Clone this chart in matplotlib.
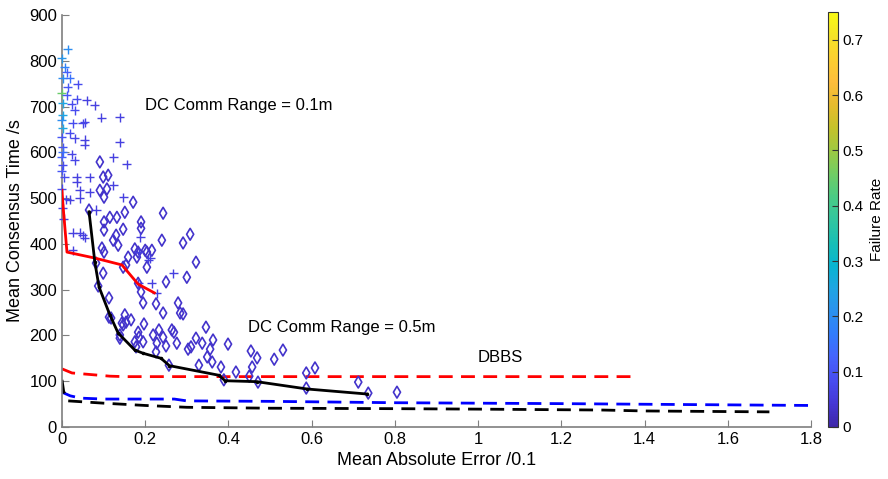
import matplotlib
matplotlib.use("Agg")
import matplotlib.pyplot as plt
import numpy as np
from matplotlib.colors import LinearSegmentedColormap, Normalize
from matplotlib.cm import ScalarMappable
from matplotlib.ticker import FuncFormatter

plt.rcParams['font.family'] = ['Liberation Sans', 'DejaVu Sans']

# MATLAB parula, sampled
parula_pts = [
    (0.2422, 0.1504, 0.6603), (0.2706, 0.2147, 0.8364), (0.2813, 0.3006, 0.9414),
    (0.2699, 0.3892, 0.9906), (0.1963, 0.4847, 0.9892), (0.1687, 0.5703, 0.9359),
    (0.1248, 0.6459, 0.8883), (0.0297, 0.7082, 0.8163), (0.0964, 0.7500, 0.7120),
    (0.1938, 0.7758, 0.6251), (0.2906, 0.7973, 0.5188), (0.4456, 0.8024, 0.3909),
    (0.6174, 0.7876, 0.2612), (0.7738, 0.7598, 0.1646), (0.9035, 0.7330, 0.1774),
    (0.9956, 0.7434, 0.2371), (0.9892, 0.8136, 0.1885), (0.9610, 0.8890, 0.1537),
    (0.9769, 0.9839, 0.0805),
]
parula = LinearSegmentedColormap.from_list('parula', parula_pts)

# DC comm range = 0.1m (plus markers): error, time, failure rate
plus_err = [0.014, 0.000, 0.007, 0.012, 0.002, 0.019, 0.038, 0.014, 0.000, 0.012,
            0.036, 0.060, 0.079, 0.024, 0.002, 0.031, 0.094, 0.139, 0.002, 0.000,
            0.026, 0.050, 0.055, 0.002, 0.019, 0.055, 0.055, 0.031, 0.139, 0.000,
            0.002, 0.002, 0.024, 0.031, 0.123, 0.156, 0.002, 0.005, 0.036, 0.036,
            0.067, 0.123, 0.043, 0.043, 0.147, 0.010, 0.019, 0.002, 0.082, 0.026,
            0.043, 0.050, 0.055, 0.188, 0.067, 0.026, 0.185, 0.216, 0.267, 0.212,
            0.228, 0.183, 0.207, 0.000, 0.000, 0.000, 0.004]
plus_time = [825, 805, 786, 775, 762, 762, 749, 742, 729, 725,
             716, 714, 703, 705, 707, 692, 675, 677, 681, 670,
             664, 664, 666, 653, 642, 627, 616, 631, 622, 633,
             611, 600, 596, 583, 589, 574, 572, 546, 546, 535,
             546, 528, 517, 500, 502, 498, 496, 478, 474, 424,
             424, 419, 413, 415, 513, 386, 382, 314, 336, 369,
             292, 314, 365, 590, 560, 520, 455]
plus_rate = [0.20, 0.22, 0.18, 0.12, 0.20, 0.15, 0.08, 0.10, 0.45, 0.10,
             0.08, 0.06, 0.06, 0.08, 0.25, 0.08, 0.06, 0.06, 0.25, 0.20,
             0.08, 0.07, 0.07, 0.25, 0.08, 0.06, 0.06, 0.07, 0.06, 0.10,
             0.10, 0.15, 0.07, 0.07, 0.06, 0.06, 0.08, 0.08, 0.06, 0.06,
             0.06, 0.06, 0.06, 0.06, 0.06, 0.07, 0.06, 0.07, 0.06, 0.06,
             0.06, 0.06, 0.06, 0.06, 0.06, 0.06, 0.06, 0.06, 0.06, 0.06,
             0.06, 0.06, 0.06, 0.12, 0.10, 0.08, 0.07]

# DC comm range = 0.5m (diamond markers)
dia_err = [0.091, 0.099, 0.111, 0.091, 0.108, 0.101, 0.171, 0.065, 0.151, 0.115,
           0.132, 0.101, 0.190, 0.101, 0.147, 0.130, 0.190, 0.123, 0.135, 0.096,
           0.200, 0.175, 0.216, 0.159, 0.243, 0.308, 0.240, 0.291, 0.322, 0.300,
           0.250, 0.099, 0.113, 0.113, 0.151, 0.154, 0.144, 0.139, 0.139, 0.190,
           0.195, 0.204, 0.204, 0.226, 0.243, 0.279, 0.284, 0.291, 0.197, 0.183,
           0.185, 0.175, 0.178, 0.195, 0.219, 0.233, 0.228, 0.243, 0.226, 0.250,
           0.269, 0.276, 0.257, 0.303, 0.310, 0.322, 0.346, 0.329, 0.349, 0.356,
           0.363, 0.361, 0.399, 0.382, 0.389, 0.418, 0.454, 0.469, 0.457, 0.450,
           0.471, 0.510, 0.531, 0.337, 0.587, 0.608, 0.587, 0.712, 0.736, 0.805,
           0.147, 0.180, 0.264, 0.082, 0.087, 0.118, 0.166, 0.147, 0.183, 0.154,
           0.101, 0.183]
dia_time = [579, 546, 550, 517, 520, 502, 491, 474, 469, 458,
            458, 448, 448, 430, 432, 419, 434, 408, 397, 391,
            386, 389, 386, 371, 467, 421, 408, 402, 360, 327,
            317, 336, 282, 240, 245, 229, 227, 201, 194, 295,
            271, 382, 349, 269, 249, 271, 249, 247, 225, 207,
            196, 186, 175, 186, 201, 212, 183, 196, 164, 177,
            207, 183, 135, 170, 175, 194, 218, 135, 153, 170,
            190, 142, 181, 131, 103, 120, 166, 151, 131, 111,
            98, 148, 168, 183, 118, 129, 85, 98, 74, 76,
            349, 371, 212, 358, 308, 238, 234, 223, 314, 354,
            382, 382]
dia_rate = 0.035

# Pareto fronts (solid) and DBBS (dashed)
front01_err = [0.000, 0.003, 0.012, 0.079, 0.144, 0.183, 0.222]
front01_time = [517, 478, 382, 369, 354, 312, 293]
front05_err = [0.065, 0.079, 0.089, 0.115, 0.135, 0.175, 0.195, 0.238, 0.258,
               0.377, 0.392, 0.468, 0.589, 0.733]
front05_time = [470, 360, 306, 245, 205, 168, 161, 150, 134, 113, 101, 99, 83, 72]

dbbs_red_err = [0.000, 0.024, 0.115, 0.150, 1.370]
dbbs_red_time = [127, 118, 111, 110, 110]
dbbs_blue_err = [0.000, 0.020, 0.045, 0.100, 0.270, 0.300, 0.500, 0.800, 1.200, 1.500, 1.800]
dbbs_blue_time = [76, 68, 63, 61, 61, 57, 56, 53, 51, 49, 47]
dbbs_black_err = [0.000, 0.004, 0.015, 0.100, 0.200, 0.300, 0.500, 0.800, 1.000,
                  1.300, 1.400, 1.700]
dbbs_black_time = [103, 78, 57, 52, 47, 43, 41, 40, 39, 37, 35, 33]

fig = plt.figure(figsize=(8.88, 4.79), dpi=100)
ax = fig.add_axes([0.0698, 0.1086, 0.8435, 0.8601])
norm = Normalize(vmin=0, vmax=0.75)

ax.plot(dbbs_red_err, dbbs_red_time, color='red', lw=2, dashes=(5, 3))
ax.plot(dbbs_blue_err, dbbs_blue_time, color='blue', lw=2, dashes=(5, 3))
ax.plot(dbbs_black_err, dbbs_black_time, color='black', lw=2, dashes=(5, 3))

ax.scatter(dia_err, dia_time, marker='d', s=36, facecolors='none',
           edgecolors=parula(norm(np.full(len(dia_err), dia_rate))), linewidths=1.2, zorder=3)
ax.scatter(plus_err, plus_time, marker='+', s=42,
           color=parula(norm(np.array(plus_rate))), linewidths=1.0, zorder=3, clip_on=False)

ax.plot(front01_err, front01_time, color='red', lw=2, zorder=4)
ax.plot(front05_err, front05_time, color='black', lw=2, marker='.', ms=3, zorder=4)

ax.text(0.2, 703, 'DC Comm Range = 0.1m', fontsize=12, va='center')
ax.text(0.447, 218, 'DC Comm Range = 0.5m', fontsize=12, va='center')
ax.text(1.0, 151, 'DBBS', fontsize=12, va='center')

ax.set_xlim(0, 1.8)
ax.set_ylim(0, 900)
ax.set_xticks(np.arange(0, 1.81, 0.2))
ax.set_yticks(np.arange(0, 901, 100))
ax.xaxis.set_major_formatter(FuncFormatter(lambda v, p: ('%g' % round(v, 1))))
for s in ['top', 'right']:
    ax.spines[s].set_visible(False)
for s in ['left', 'bottom']:
    ax.spines[s].set_color('#7f7f7f')
    ax.spines[s].set_linewidth(1.2)
ax.tick_params(direction='in', length=5, color='#7f7f7f', labelsize=12, labelcolor='black')
ax.set_xlabel('Mean Absolute Error /0.1', fontsize=13, labelpad=4)
ax.set_ylabel('Mean Consensus Time /s', fontsize=13, labelpad=4)

cax = fig.add_axes([0.9324, 0.1086, 0.0113, 0.866])
sm = ScalarMappable(norm=norm, cmap=parula)
cb = fig.colorbar(sm, cax=cax, ticks=np.arange(0, 0.71, 0.1))
cb.ax.yaxis.set_major_formatter(FuncFormatter(lambda v, p: ('%g' % round(v, 1))))
cb.ax.tick_params(direction='in', length=4, color='#333333', labelsize=11)
cb.outline.set_edgecolor('#333333')
cb.outline.set_linewidth(0.8)
cb.set_label('Failure Rate', fontsize=11, labelpad=4)

fig.savefig('out.png', dpi=100)
